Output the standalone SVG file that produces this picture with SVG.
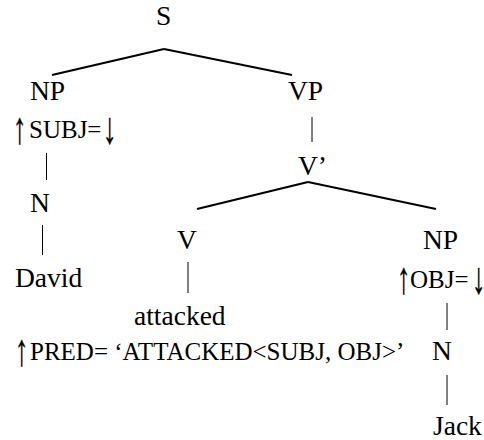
<svg xmlns="http://www.w3.org/2000/svg" width="484" height="440" viewBox="0 0 484 440">
<style>
text{font-family:"Liberation Serif","Times New Roman",serif;fill:#000}
.l{font-size:27.5px}
.f{font-size:25px}
.a{font-size:30px;stroke:#000;stroke-width:0.3}
.br{stroke:#000;stroke-width:2.2;stroke-linecap:butt}
.bar{stroke:#000;stroke-width:1}
</style>
<rect width="484" height="440" fill="#fff"/>
<g id="connectors">
<line class="br" x1="164" y1="49" x2="52" y2="75"/>
<line class="br" x1="164" y1="49" x2="292" y2="75"/>
<line class="br" x1="308" y1="182" x2="197" y2="209"/>
<line class="br" x1="308" y1="182" x2="436" y2="209"/>
<line class="bar" x1="312" y1="117" x2="312" y2="142"/>
<line class="bar" x1="46.5" y1="153" x2="46.5" y2="180"/>
<line class="bar" x1="42.5" y1="225" x2="42.5" y2="255"/>
<line class="bar" x1="188" y1="262" x2="188" y2="293"/>
<line class="bar" x1="447" y1="303" x2="447" y2="330"/>
<line class="bar" x1="447" y1="375" x2="447" y2="405"/>
</g>
<g id="S"><text class="l" x="156" y="25">S</text></g>
<g id="NP1"><text class="l" x="30" y="100">NP</text></g>
<g id="subj"><text class="a" transform="translate(13,143) scale(0.9,1.5)">↑</text><text class="f" x="29" y="138">SUBJ=</text><text class="a" transform="translate(103,143) scale(0.9,1.5)">↓</text></g>
<g id="VP"><text class="l" x="288" y="100">VP</text></g>
<g id="Vbar"><text class="l" x="298" y="175">V’</text></g>
<g id="N1"><text class="l" x="30" y="212">N</text></g>
<g id="David"><text class="l" x="15" y="287">David</text></g>
<g id="V"><text class="l" x="177" y="249">V</text></g>
<g id="NP2"><text class="l" x="423" y="249">NP</text></g>
<g id="obj"><text class="a" transform="translate(397,293) scale(0.9,1.5)">↑</text><text class="f" x="410" y="288">OBJ=</text><text class="a" transform="translate(472,293) scale(0.9,1.5)">↓</text></g>
<g id="attacked"><text class="l" x="134" y="325">attacked</text></g>
<g id="pred"><text class="a" transform="translate(15,365) scale(0.9,1.5)">↑</text><text class="f" x="30" y="360">PRED= ‘ATTACKED&lt;SUBJ, OBJ&gt;’</text></g>
<g id="N2"><text class="l" x="432" y="360">N</text></g>
<g id="Jack"><text class="l" x="433" y="435">Jack</text></g>
</svg>
